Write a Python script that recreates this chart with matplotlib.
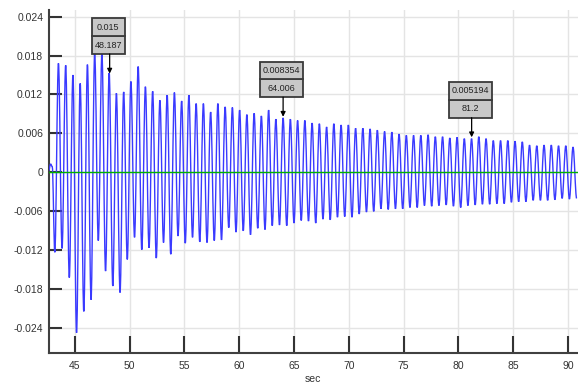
import numpy as np
import matplotlib
matplotlib.use("Agg")
from matplotlib import pyplot as plt
from matplotlib.patches import Rectangle, PathPatch
from matplotlib.path import Path
from matplotlib.transforms import ScaledTranslation

# small wiggle before the first big swing
lead_t = [42.63, 42.80, 42.95]
lead_v = [0.0003, 0.0013, 0.0009]

# trough / peak of every cycle (trough k comes before peak k)
trough_v = [-0.0123, -0.0117, -0.0162, -0.0247, -0.0214, -0.0196, -0.0105, -0.0152,
            -0.0175, -0.0185, -0.0134, -0.0100, -0.0119, -0.0116, -0.0132, -0.0108,
            -0.0126, -0.0098, -0.0109, -0.0100, -0.0107, -0.0108, -0.0105, -0.0104,
            -0.0085, -0.0092, -0.0090, -0.0096, -0.0086, -0.0088, -0.0082, -0.0081,
            -0.0082, -0.0078, -0.0074, -0.0075, -0.0078, -0.0072, -0.0073, -0.0069,
            -0.0068, -0.0069, -0.0064, -0.0061, -0.0060, -0.0056, -0.0057, -0.0056,
            -0.0056, -0.0054, -0.0054, -0.0051, -0.0052, -0.0051, -0.0050, -0.0052,
            -0.0054, -0.0051, -0.0050, -0.0049, -0.0049, -0.0048, -0.0048, -0.0046,
            -0.0045, -0.0045, -0.0043, -0.0043, -0.0043, -0.0042, -0.0040, -0.0041,
            -0.0040]
peak_v = [0.0168, 0.0165, 0.0150, 0.0137, 0.0166, 0.0184, 0.0184, 0.0153,
          0.0122, 0.0124, 0.0140, 0.0163, 0.0132, 0.0125, 0.0111, 0.0119,
          0.0123, 0.0110, 0.0119, 0.0106, 0.0106, 0.0093, 0.0106,
          0.0101, 0.0100, 0.0096, 0.0089, 0.0091, 0.0087, 0.0096, 0.0082,
          0.0084, 0.0082, 0.0080, 0.0080, 0.0076, 0.0075, 0.0070, 0.0075,
          0.0073, 0.0073, 0.0068, 0.0068, 0.0067, 0.0065, 0.0063, 0.0062,
          0.0059, 0.0057, 0.0057, 0.0057, 0.0058, 0.0055, 0.0055, 0.0053,
          0.0054, 0.0052, 0.0052, 0.0055, 0.0052, 0.0049, 0.0049, 0.0049,
          0.0048, 0.0047, 0.0042, 0.0041, 0.0042, 0.0042, 0.0041, 0.0041,
          0.0039]
first_trough_t = 43.185
half_period = 0.3305

# data cursors
cursor_t = [48.187, 64.006, 81.2]
cursor_v = [0.015, 0.008354, 0.005194]
cursor_vlbl = ["0.015", "0.008354", "0.005194"]
cursor_tlbl = ["48.187", "64.006", "81.2"]

xticks = [45, 50, 55, 60, 65, 70, 75, 80, 85, 90]
yticks = [-0.024, -0.018, -0.012, -0.006, 0, 0.006, 0.012, 0.018, 0.024]
ytick_lbl = ["-0.024", "-0.018", "-0.012", "-0.006", "0", "0.006", "0.012", "0.018", "0.024"]

ext_v = np.empty(len(trough_v) + len(peak_v))
ext_v[0::2] = trough_v
ext_v[1::2] = peak_v
ext_t = first_trough_t + half_period * np.arange(len(ext_v))
t = np.concatenate([lead_t, ext_t])
v = np.concatenate([lead_v, ext_v])

plt.rcParams['font.family'] = ['Liberation Sans', 'DejaVu Sans']

fig = plt.figure(figsize=(5.78, 3.87), dpi=100)
ax = fig.add_axes([0.0843, 0.088, 0.9157, 0.886])

# smooth line through the extremes (flat tangent at each turning point)
a = 0.36
verts = [(t[0], v[0])]
codes = [Path.MOVETO]
for i in range(len(t) - 1):
    h = t[i + 1] - t[i]
    verts += [(t[i] + a * h, v[i]), (t[i + 1] - a * h, v[i + 1]), (t[i + 1], v[i + 1])]
    codes += [Path.CURVE4] * 3
ax.add_patch(PathPatch(Path(verts, codes), fill=False, ec='#3a3aff', lw=1.0, zorder=3))
ax.axhline(0, color='#00b000', lw=1.0, zorder=4)

ax.set_xlim(42.63, 90.9)
ax.set_ylim(-0.0278, 0.0250)
ax.set_xticks(xticks)
ax.set_yticks(yticks)
ax.set_yticklabels(ytick_lbl)
ax.grid(True, color='#e4e4e4', lw=1.0, zorder=0)
ax.set_axisbelow(True)

for s in ['top', 'right']:
    ax.spines[s].set_visible(False)
for s in ['left', 'bottom']:
    ax.spines[s].set_linewidth(1.5)
    ax.spines[s].set_color('#404040')

ax.tick_params(axis='y', direction='in', length=9, width=1.5, color='#333333',
               labelsize=7.5, labelcolor='#333333', pad=4)
ax.tick_params(axis='x', direction='in', length=12, width=1.5, color='#333333',
               labelsize=7.5, labelcolor='#333333', pad=6)
ax.set_xlabel("sec", fontsize=7.5, color='#333333', labelpad=2)

# gray two-row value boxes with an arrow down to the point
for ct, cv, lv, lt in zip(cursor_t, cursor_v, cursor_vlbl, cursor_tlbl):
    trans = fig.dpi_scale_trans + ScaledTranslation(ct, cv, ax.transData)
    w = (5.0 * max(len(lv), len(lt)) + 3) / 100
    h = 0.178
    y0 = 0.21
    x0 = -w / 2 - 0.015
    for i, txt in enumerate([lt, lv]):
        ax.add_patch(Rectangle((x0, y0 + i * h), w, h, transform=trans, fc='#c8c8c8',
                               ec='#3a3a3a', lw=1.3, clip_on=False, zorder=6))
        ax.text(x0 + w / 2, y0 + i * h + h / 2, txt, transform=trans, ha='center',
                va='center', fontsize=6.5, color='#222222', zorder=7)
    ax.annotate('', xy=(ct, cv), xytext=(0, y0 * 72), textcoords='offset points',
                arrowprops=dict(arrowstyle='-|>', color='black', lw=0.9,
                                mutation_scale=7, shrinkA=0, shrinkB=1), zorder=6)

fig.savefig("out.png", dpi=100)
